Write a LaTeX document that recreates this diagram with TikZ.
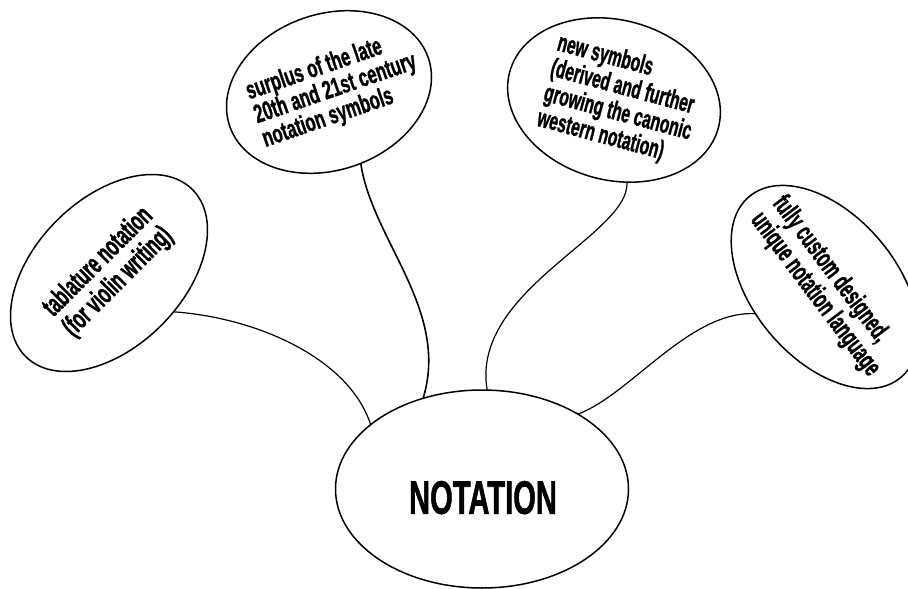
\documentclass[tikz,border=0pt]{standalone}
\usepackage{fontspec}
\setmainfont{Liberation Sans}[BoldFeatures={FakeBold=1.5}]
\usetikzlibrary{shapes.geometric}
\newcommand{\cndtext}[5]{\makebox[0pt]{\hspace*{#5}\scalebox{#1}[1]{\fontsize{#2}{#3}\selectfont\bfseries\begin{tabular}{@{}l@{}}#4\end{tabular}}}}
\begin{document}
\begin{tikzpicture}[x=1pt,y=-1pt,
  bub/.style={draw,ellipse,line width=1.5pt,inner sep=0pt,outer sep=0pt},
  link/.style={line width=1.2pt}]
\useasboundingbox (0,0) rectangle (908,589);
\node[bub,minimum width=293,minimum height=198] (C) at (482,489)
  {\raisebox{-21pt}[0pt][0pt]{\cndtext{0.62}{47}{50}{NOTATION}{2pt}}};
\node[bub,minimum width=236,minimum height=148,rotate=45] (L) at (109,273)
  {\cndtext{0.60}{28}{26}{tablature notation\\(for violin writing)}{0pt}};
\node[bub,minimum width=210,minimum height=156,rotate=19] (T) at (329,92)
  {\cndtext{0.635}{26}{21}{surplus of the late\\20th and 21st century\\notation symbols}{14pt}};
\node[bub,minimum width=216,minimum height=160,rotate=-15] (R1) at (614,100)
  {\cndtext{0.60}{26}{24}{new symbols\\(derived and further\\growing the canonic\\western notation)}{14pt}};
\node[bub,minimum width=236,minimum height=144,rotate=-50] (R2) at (825,287)
  {\rotatebox{-3}{\cndtext{0.60}{27}{26}{fully custom designed,\\unique notation language}{0pt}}};
\draw[link] (L.-76) .. controls (260,318) and (350,360) .. (C.150);
\draw[link,line width=1.6pt] (T.-85) .. controls (372,240) and (450,310) .. (C.123);
\draw[link] (R1.-66) .. controls (630,235) and (470,290) .. (C.87);
\draw[link] (R2.-109) .. controls (690,310) and (630,395) .. (C.38);
\end{tikzpicture}
\end{document}
